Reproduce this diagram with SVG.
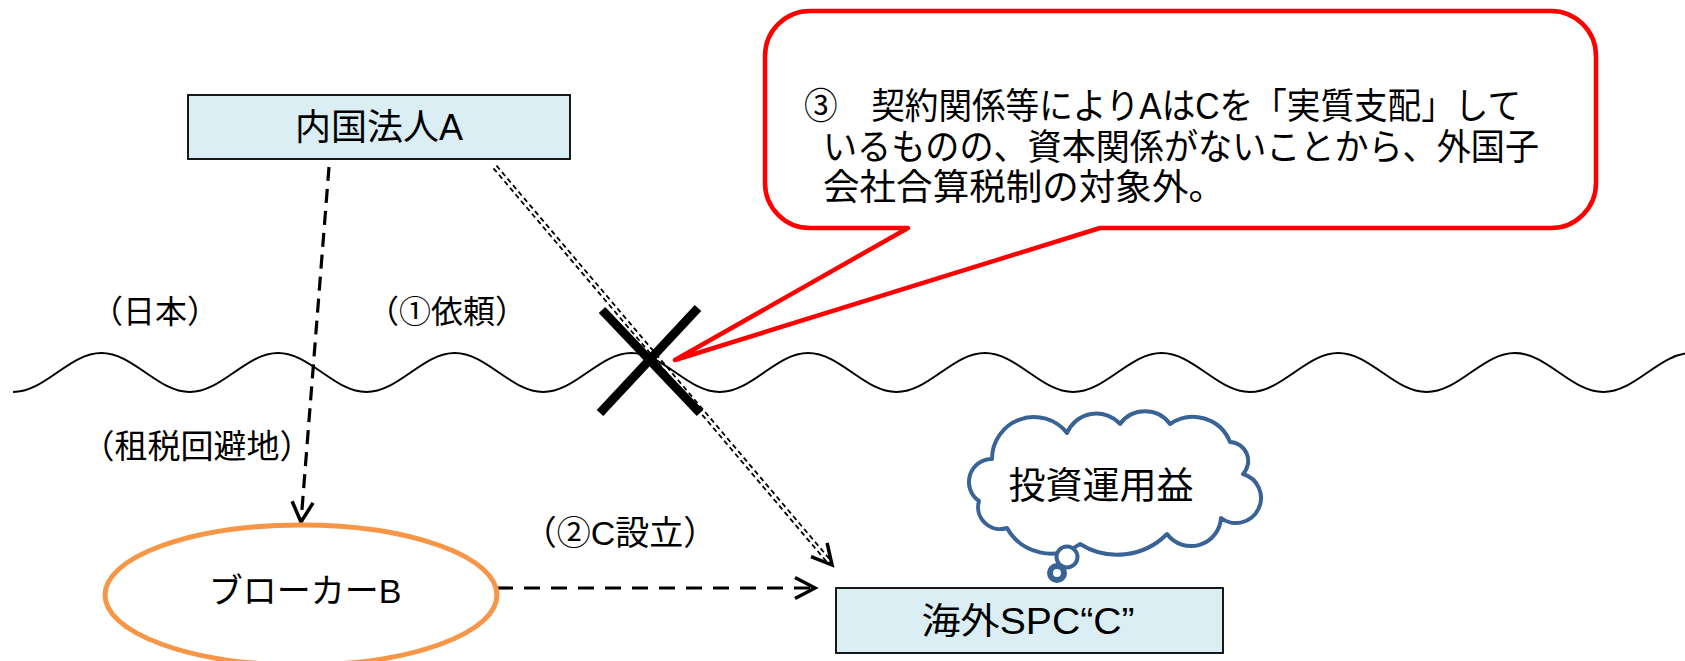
<svg xmlns="http://www.w3.org/2000/svg" width="1685" height="661" viewBox="0 0 1685 661">
<style>
.t{font-family:"Liberation Sans","Noto Sans CJK JP",sans-serif;fill:#000}
.box{fill:#DBEEF4;stroke:#000;stroke-width:1.8}
.dash{fill:none;stroke:#000;stroke-width:3.2}
.dbl{fill:none;stroke:#000;stroke-width:1.8;stroke-dasharray:5 3.5}
</style>
<defs>
<marker id="arr" markerUnits="userSpaceOnUse" markerWidth="40" markerHeight="40" viewBox="-30 -20 40 40" refX="0" refY="0" orient="auto" overflow="visible">
<path d="M-20,-10.5 L0,0 L-20,10.5" fill="none" stroke="#000" stroke-width="3.5"/>
</marker>
</defs>
<rect width="1685" height="661" fill="#fff"/>

<g id="border">
<path fill="none" stroke="#000" stroke-width="2" d="M13,392 C45.2,392 69.2,353 101.35,353 S157.5,392 189.7,392 S245.9,353 278.05,353 S334.2,392 366.4,392 S422.6,353 454.75,353 S510.9,392 543.1,392 S599.3,353 631.45,353 S687.6,392 719.8,392 S776,353 808.15,353 S864.3,392 896.5,392 S952.7,353 984.85,353 S1041,392 1073.2,392 S1129.4,353 1161.55,353 S1217.7,392 1249.9,392 S1306.1,353 1338.25,353 S1394.4,392 1426.6,392 S1482.8,353 1514.95,353 S1571.1,392 1603.3,392 S1659.5,353 1691.65,353"/>
</g>

<g id="labels">
<text class="t" x="155" y="323" font-size="32" text-anchor="middle">（日本）</text>
<text class="t" x="447" y="323" font-size="32" text-anchor="middle">（①依頼）</text>
<text class="t" x="197" y="458" font-size="33" text-anchor="middle">（租税回避地）</text>
<text class="t" x="620" y="545" font-size="34" text-anchor="middle">（②C設立）</text>
</g>

<g id="connectors">
<line class="dash" x1="329" y1="167" x2="301" y2="522" stroke-dasharray="14 8" marker-end="url(#arr)"/>
<line class="dbl" x1="496.5" y1="165.7" x2="830.9" y2="560.6"/>
<line class="dbl" x1="493.5" y1="168.3" x2="827.9" y2="563.2"/>
<line x1="495" y1="167" x2="832" y2="565" stroke="none" marker-end="url(#arr)"/>
<line class="dash" x1="497" y1="588" x2="815" y2="588" stroke-dasharray="16 11" marker-end="url(#arr)"/>
</g>

<g id="cross">
<line x1="602" y1="310" x2="700" y2="413" stroke="#000" stroke-width="9"/>
<line x1="698" y1="308" x2="600" y2="413" stroke="#000" stroke-width="9"/>
</g>

<g id="nodeA">
<rect class="box" x="188" y="95" width="382" height="64"/>
<text class="t" x="379" y="139.5" font-size="36" text-anchor="middle">内国法人A</text>
</g>

<g id="nodeB">
<ellipse cx="301" cy="595" rx="196" ry="70" fill="#fff" stroke="#F79646" stroke-width="5"/>
<text class="t" x="305" y="603" font-size="34" text-anchor="middle">ブローカーB</text>
</g>

<g id="nodeC">
<rect class="box" x="836" y="588" width="387" height="65"/>
<text class="t" x="1028" y="634" font-size="36" text-anchor="middle" textLength="213" lengthAdjust="spacingAndGlyphs">海外SPC“C”</text>
</g>

<g id="cloud">
<path fill="#fff" stroke="#3A6395" stroke-width="4" stroke-linejoin="round" d="M992,459 A42,42 0 0 1 1067,433 A32,32 0 0 1 1120,424 A31,31 0 0 1 1170,424 A40,40 0 0 1 1230,442 A19,19 0 0 1 1243,474 A25,25 0 1 1 1221,518 A30,30 0 0 1 1167,534 A70,70 0 0 1 1080,544 A50,50 0 0 1 1007,528 A22,22 0 0 1 979,501 A23,23 0 0 1 992,459 Z"/>
<circle cx="1067" cy="557" r="10.5" fill="#fff" stroke="#3A6395" stroke-width="4"/>
<circle cx="1057" cy="573" r="7" fill="#fff" stroke="#3A6395" stroke-width="6"/>
<text class="t" x="1101" y="499" font-size="37" text-anchor="middle">投資運用益</text>
</g>

<g id="callout">
<path fill="#fff" stroke="#FF0000" stroke-width="4.5" stroke-linejoin="round" d="M810,11 H1551 A45,45 0 0 1 1596,56 V183 A45,45 0 0 1 1551,228 H1100 L675,360 L908,228 H810 A45,45 0 0 1 765,183 V56 A45,45 0 0 1 810,11 Z"/>
<text class="t" x="804" y="119" font-size="36" textLength="717" lengthAdjust="spacingAndGlyphs">③　契約関係等によりAはCを「実質支配」して</text>
<text class="t" x="823" y="160" font-size="36" textLength="716" lengthAdjust="spacingAndGlyphs">いるものの、資本関係がないことから、外国子</text>
<text class="t" x="823" y="200" font-size="36" textLength="402" lengthAdjust="spacingAndGlyphs">会社合算税制の対象外。</text>
</g>
</svg>
